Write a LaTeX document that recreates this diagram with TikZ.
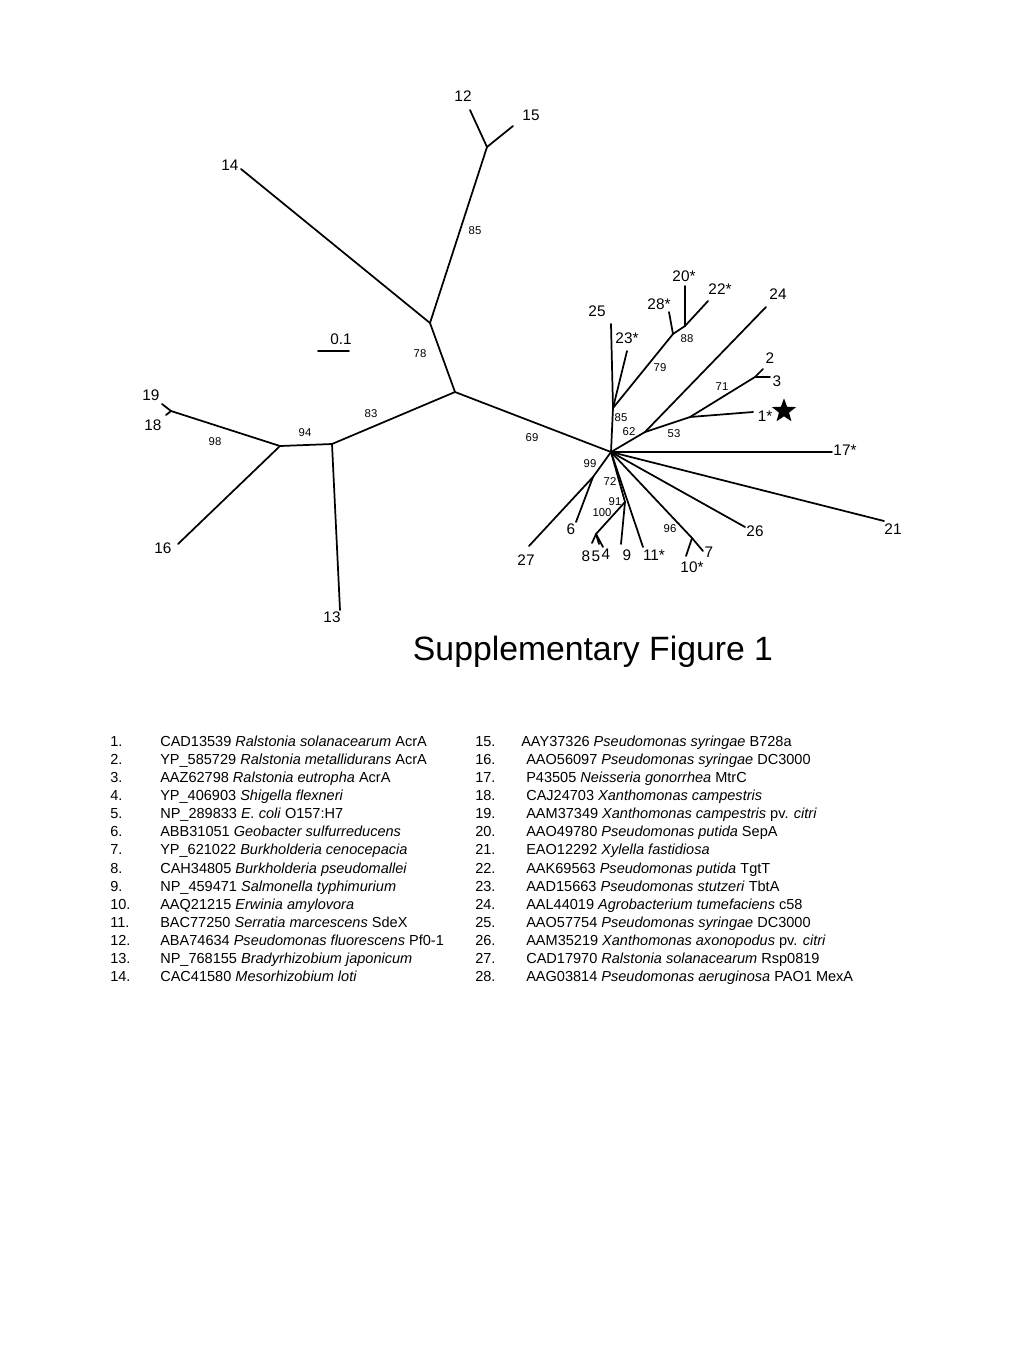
\documentclass[tikz,border=0pt]{standalone}
\usepackage{fontspec}
\setmainfont{Liberation Sans}
\usetikzlibrary{positioning,shapes.geometric}
\tikzset{
  branch/.style={line width=1.3pt, line cap=round},
  tiplabel/.style={font=\fontsize{11.5}{13}\selectfont, inner sep=0pt},
  bootlabel/.style={font=\fontsize{8.5}{10}\selectfont, inner sep=0pt},
  legendnum/.style={anchor=base west, font=\fontsize{10.9}{12}\selectfont, inner sep=0pt},
  legendtext/.style={anchor=base west, font=\fontsize{10.9}{12}\selectfont, inner sep=0pt},
  titletext/.style={font=\fontsize{25.3}{28}\selectfont, inner sep=0pt},
  marker/.style={star, star points=5, star point ratio=2.4, fill=black, inner sep=0pt, minimum size=19pt}
}

\begin{document}
\begin{tikzpicture}[x=0.75pt, y=-0.75pt]
  \useasboundingbox (0,0) rectangle (1024,1365);

  % tree points
  \coordinate (hub) at (611,452);
  \coordinate (nA) at (455,392);
  \coordinate (nB) at (430,323);
  \coordinate (nC) at (487,147);
  \coordinate (nD) at (332,444);
  \coordinate (nE) at (280,446);
  \coordinate (nF) at (171,411);
  \coordinate (t12) at (470,110);
  \coordinate (t15) at (513,126);
  \coordinate (t14) at (241,169);
  \coordinate (t13) at (340,610);
  \coordinate (t16) at (178,544);
  \coordinate (t19) at (162,404);
  \coordinate (t18) at (166,415);

  \coordinate (nG) at (613,408);
  \coordinate (nH) at (673,334);
  \coordinate (nI) at (685,326);
  \coordinate (nJ) at (645,432);
  \coordinate (nK) at (690,417);
  \coordinate (nL) at (755,377);
  \coordinate (t25) at (611,324);
  \coordinate (t23) at (627,351);
  \coordinate (t28) at (669,312);
  \coordinate (t20) at (685,286);
  \coordinate (t22) at (708,301);
  \coordinate (t24) at (766,307);
  \coordinate (t1) at (753,412);
  \coordinate (t2) at (763,369);
  \coordinate (t3) at (770,377);
  \coordinate (t17) at (832,452);
  \coordinate (t21) at (884,521);
  \coordinate (t26) at (745,527);

  \coordinate (nM) at (692,538);
  \coordinate (nN) at (625,502);
  \coordinate (nO) at (596,534);
  \coordinate (nP) at (593,477);
  \coordinate (t7) at (703,551);
  \coordinate (t10) at (686,556);
  \coordinate (t11) at (643,547);
  \coordinate (t9) at (621,544);
  \coordinate (t8) at (592,543);
  \coordinate (t5) at (599,544);
  \coordinate (t4) at (603,547);
  \coordinate (t27) at (529,546);
  \coordinate (t6) at (576,522);

  \coordinate (sbL) at (318,351);
  \coordinate (sbR) at (349,351);

  % branches
  \draw[branch] (hub) -- (nA);
  \draw[branch] (nA) -- (nB);
  \draw[branch] (nB) -- (nC);
  \draw[branch] (nC) -- (t12);
  \draw[branch] (nC) -- (t15);
  \draw[branch] (nB) -- (t14);
  \draw[branch] (nA) -- (nD);
  \draw[branch] (nD) -- (t13);
  \draw[branch] (nD) -- (nE);
  \draw[branch] (nE) -- (t16);
  \draw[branch] (nE) -- (nF);
  \draw[branch] (nF) -- (t19);
  \draw[branch] (nF) -- (t18);

  \draw[branch] (hub) -- (nG);
  \draw[branch] (nG) -- (t25);
  \draw[branch] (nG) -- (t23);
  \draw[branch] (nG) -- (nH);
  \draw[branch] (nH) -- (t28);
  \draw[branch] (nH) -- (nI);
  \draw[branch] (nI) -- (t20);
  \draw[branch] (nI) -- (t22);
  \draw[branch] (hub) -- (nJ);
  \draw[branch] (nJ) -- (t24);
  \draw[branch] (nJ) -- (nK);
  \draw[branch] (nK) -- (t1);
  \draw[branch] (nK) -- (nL);
  \draw[branch] (nL) -- (t2);
  \draw[branch] (nL) -- (t3);
  \draw[branch] (hub) -- (t17);
  \draw[branch] (hub) -- (t21);
  \draw[branch] (hub) -- (t26);
  \draw[branch] (hub) -- (nM);
  \draw[branch] (nM) -- (t7);
  \draw[branch] (nM) -- (t10);
  \draw[branch] (hub) -- (t11);
  \draw[branch] (hub) -- (nN);
  \draw[branch] (nN) -- (t9);
  \draw[branch] (nN) -- (nO);
  \draw[branch] (nO) -- (t8);
  \draw[branch] (nO) -- (t5);
  \draw[branch] (nO) -- (t4);
  \draw[branch] (hub) -- (nP);
  \draw[branch] (nP) -- (t27);
  \draw[branch] (nP) -- (t6);

  \draw[branch] (sbL) -- (sbR);
  \node[tiplabel] (scale) at (341,339) {0.1};

  % tip labels
  \node[tiplabel] (l12) at (463,96) {12};
  \node[tiplabel] (l15) at (531,115) {15};
  \node[tiplabel] (l14) at (230,165) {14};
  \node[tiplabel] (l19) at (151,395) {19};
  \node[tiplabel] (l18) at (153,425) {18};
  \node[tiplabel] (l16) at (163,548) {16};
  \node[tiplabel] (l13) at (332,617) {13};
  \node[tiplabel] (l25) at (597,311) {25};
  \node[tiplabel] (l23) at (627,338) {23*};
  \node[tiplabel] (l28) at (659,304) {28*};
  \node[tiplabel] (l20) at (684,276) {20*};
  \node[tiplabel] (l22) at (720,289) {22*};
  \node[tiplabel] (l24) at (778,294) {24};
  \node[tiplabel] (l2) at (770,358) {2};
  \node[tiplabel] (l3) at (777,381) {3};
  \node[tiplabel] (l1) at (765,416) {1*};
  \node[marker] (star1) at (784,411) {};
  \node[tiplabel] (l17) at (845,450) {17*};
  \node[tiplabel] (l21) at (893,529) {21};
  \node[tiplabel] (l26) at (755,531) {26};
  \node[tiplabel] (l7) at (709,552) {7};
  \node[tiplabel] (l10) at (692,567) {10*};
  \node[tiplabel] (l11) at (654,555) {11*};
  \node[tiplabel] (l9) at (627,555) {9};
  \node[tiplabel] (l8) at (586,556) {8};
  \node[tiplabel] (l5) at (596,556) {5};
  \node[tiplabel] (l4) at (606,554) {4};
  \node[tiplabel] (l6) at (571,529) {6};
  \node[tiplabel] (l27) at (526,560) {27};

  % bootstrap values
  \node[bootlabel] (b85a) at (475,231) {85};
  \node[bootlabel] (b78) at (420,354) {78};
  \node[bootlabel] (b83) at (371,414) {83};
  \node[bootlabel] (b94) at (305,433) {94};
  \node[bootlabel] (b98) at (215,442) {98};
  \node[bootlabel] (b69) at (532,438) {69};
  \node[bootlabel] (b88) at (687,339) {88};
  \node[bootlabel] (b79) at (660,368) {79};
  \node[bootlabel] (b71) at (722,387) {71};
  \node[bootlabel] (b85b) at (621,418) {85};
  \node[bootlabel] (b62) at (629,432) {62};
  \node[bootlabel] (b53) at (674,434) {53};
  \node[bootlabel] (b99) at (590,464) {99};
  \node[bootlabel] (b72) at (610,482) {72};
  \node[bootlabel] (b91) at (615,502) {91};
  \node[bootlabel] (b100) at (602,513) {100};
  \node[bootlabel] (b96) at (670,529) {96};

  \node[titletext] (title) at (593,652) {Supplementary Figure 1};

  % legend
  \foreach \i/\txt in {
    1/{CAD13539 \textit{Ralstonia solanacearum} AcrA},
    2/{YP\_585729 \textit{Ralstonia metallidurans} AcrA},
    3/{AAZ62798 \textit{Ralstonia eutropha} AcrA},
    4/{YP\_406903 \textit{Shigella flexneri}},
    5/{NP\_289833 \textit{E. coli} O157:H7},
    6/{ABB31051 \textit{Geobacter sulfurreducens}},
    7/{YP\_621022 \textit{Burkholderia cenocepacia}},
    8/{CAH34805 \textit{Burkholderia pseudomallei}},
    9/{NP\_459471 \textit{Salmonella typhimurium}},
    10/{AAQ21215 \textit{Erwinia amylovora}},
    11/{BAC77250 \textit{Serratia marcescens} SdeX},
    12/{ABA74634 \textit{Pseudomonas fluorescens} Pf0-1},
    13/{NP\_768155 \textit{Bradyrhizobium japonicum}},
    14/{CAC41580 \textit{Mesorhizobium loti}}}{
    \node[legendnum] (num\i) at (110,{746+(\i-1)*18.15}) {\i.};
    \node[legendtext] (leg\i) at (160,{746+(\i-1)*18.15}) {\txt};
  }
  \foreach \i/\txt in {
    15/{AAY37326 \textit{Pseudomonas syringae} B728a},
    16/{AAO56097 \textit{Pseudomonas syringae} DC3000},
    17/{P43505 \textit{Neisseria gonorrhea} MtrC},
    18/{CAJ24703 \textit{Xanthomonas campestris}},
    19/{AAM37349 \textit{Xanthomonas campestris} pv. \textit{citri}},
    20/{AAO49780 \textit{Pseudomonas putida} SepA},
    21/{EAO12292 \textit{Xylella fastidiosa}},
    22/{AAK69563 \textit{Pseudomonas putida} TgtT},
    23/{AAD15663 \textit{Pseudomonas stutzeri} TbtA},
    24/{AAL44019 \textit{Agrobacterium tumefaciens} c58},
    25/{AAO57754 \textit{Pseudomonas syringae} DC3000},
    26/{AAM35219 \textit{Xanthomonas axonopodus} pv. \textit{citri}},
    27/{CAD17970 \textit{Ralstonia solanacearum} Rsp0819},
    28/{AAG03814 \textit{Pseudomonas aeruginosa} PAO1 MexA}}{
    \node[legendnum] (num\i) at (475,{746+(\i-15)*18.15}) {\i.};
    \pgfmathsetmacro{\legx}{ifthenelse(\i==15,521,526)}
    \node[legendtext] (leg\i) at (\legx,{746+(\i-15)*18.15}) {\txt};
  }
\end{tikzpicture}
\end{document}
